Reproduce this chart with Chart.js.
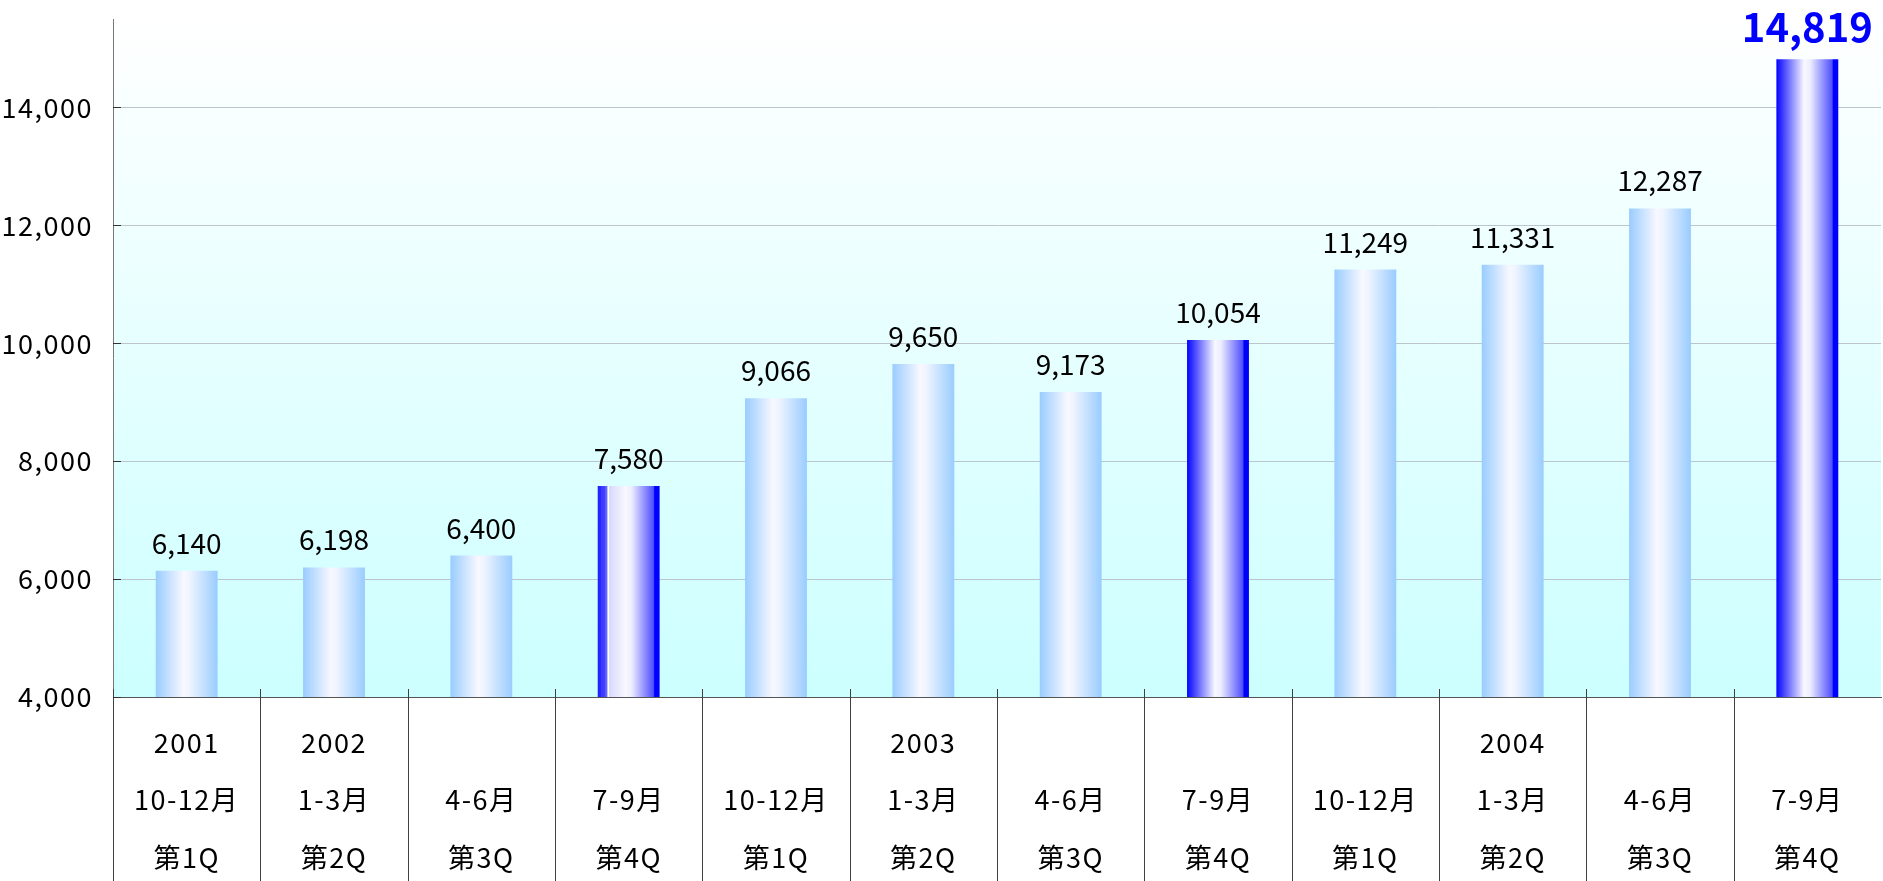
<!DOCTYPE html>
<html><head><meta charset="utf-8">
<script src="https://cdn.jsdelivr.net/npm/chart.js@4.4.1/dist/chart.umd.min.js"></script>
<style>html,body{margin:0;padding:0;background:#fff;overflow:hidden}canvas{display:block}</style>
</head><body>
<canvas id="c" width="1883" height="881"></canvas>
<script>
// ---- data ----
const years    = ['2001','2002','','','','2003','','','','2004','',''];
const months   = ['10-12月','1-3月','4-6月','7-9月','10-12月','1-3月','4-6月','7-9月','10-12月','1-3月','4-6月','7-9月'];
const quarters = ['第1Q','第2Q','第3Q','第4Q','第1Q','第2Q','第3Q','第4Q','第1Q','第2Q','第3Q','第4Q'];
const values   = [6140,6198,6400,7580,9066,9650,9173,10054,11249,11331,12287,14819];
const yTicks   = [4000,6000,8000,10000,12000,14000];
const yMin = 4000, yMax = 15500;

// ---- presentation ----
const FONT = "'Noto Sans CJK JP','Noto Sans',sans-serif";
const labels = years.map((y,i)=>[y, months[i], quarters[i]]);
const BAR_PCT = 0.42;
const fmt = v => v.toLocaleString('en-US');

function barFill(ctx){
  const chart = ctx.chart, i = ctx.dataIndex;
  const xs = chart.scales && chart.scales.x;
  if (!xs || !chart.chartArea || i === undefined) return '#99ccff';
  const cx = xs.getPixelForValue(i);
  const w = xs.width / labels.length * BAR_PCT;
  const g = chart.ctx.createLinearGradient(cx - w/2, 0, cx + w/2, 0);
  if (quarters[i] === '第4Q') {
    if (i === 3) {
      g.addColorStop(0, '#2020ff'); g.addColorStop(0.05, '#2828ff');
      g.addColorStop(0.06, '#3a3aff'); g.addColorStop(0.11, '#4040ff');
      g.addColorStop(0.12, '#5a5aff'); g.addColorStop(0.155, '#6a6aff');
      g.addColorStop(0.16, '#ffffff'); g.addColorStop(0.18, '#ffffff');
      g.addColorStop(0.185, '#d8d8ff');
    } else {
      g.addColorStop(0, '#0000ff'); g.addColorStop(0.04, '#1a1aff');
    }
    g.addColorStop(0.45, '#f8f8ff'); g.addColorStop(0.55, '#ececff');
    g.addColorStop(0.90, '#5050ff'); g.addColorStop(0.92, '#0000ff');
    g.addColorStop(1, '#0000ff');
  } else {
    g.addColorStop(0, '#99ccff'); g.addColorStop(0.45, '#f8f8ff');
    g.addColorStop(0.55, '#eef4ff'); g.addColorStop(1, '#99ccff');
  }
  return g;
}

const bgPlugin = {
  id:'bg',
  beforeDraw(chart){
    const a = chart.chartArea, c = chart.ctx;
    const g = c.createLinearGradient(0, a.top, 0, a.bottom);
    g.addColorStop(0, '#ffffff'); g.addColorStop(1, '#ccffff');
    c.save(); c.fillStyle = g; c.fillRect(a.left, a.top, a.right - a.left, a.bottom - a.top); c.restore();
    c.letterSpacing = '1.5px';
  },
  beforeDatasetsDraw(chart){ chart.ctx.letterSpacing = '0px'; }
};

const decoPlugin = {
  id:'deco',
  afterDatasetsDraw(chart){
    const c = chart.ctx, meta = chart.getDatasetMeta(0);
    meta.data.forEach((bar,i)=>{
      const last = i === values.length - 1;
      c.save();
      c.font = last ? `bold 40px ${FONT}` : `28px ${FONT}`;
      c.fillStyle = last ? '#0000ff' : '#000000';
      c.textAlign = 'center'; c.textBaseline = 'alphabetic';
      c.fillText(fmt(values[i]), bar.x, bar.y - 17);
      c.restore();
    });
  },
  afterDraw(chart){
    const c = chart.ctx, a = chart.chartArea, xs = chart.scales.x, ys = chart.scales.y;
    const n = labels.length, cw = xs.width / n;
    c.save();
    c.strokeStyle = '#404040'; c.lineWidth = 1;
    for (let k = 0; k < n; k++) {
      const bx = Math.round(xs.getPixelForValue(k) - cw/2) + 0.5;
      c.beginPath(); c.moveTo(bx, a.bottom - 8); c.lineTo(bx, chart.height); c.stroke();
    }
    c.strokeStyle = '#333333';
    yTicks.forEach(v=>{
      const py = Math.round(ys.getPixelForValue(v)) + 0.5;
      c.beginPath(); c.moveTo(a.left, py); c.lineTo(a.left + 8, py); c.stroke();
    });
    c.restore();
  }
};

new Chart(document.getElementById('c'), {
  type:'bar',
  data:{ labels, datasets:[{ data: values, backgroundColor: barFill, borderWidth:0,
    barPercentage: BAR_PCT, categoryPercentage: 1 }] },
  options:{
    responsive:false, animation:false, devicePixelRatio:1,
    layout:{ padding:{ top:19, right:2, left:0, bottom:0 } },
    plugins:{ legend:{display:false}, tooltip:{enabled:false} },
    scales:{
      x:{
        grid:{ display:false, drawTicks:false },
        border:{ display:true, color:'#555555', width:1 },
        ticks:{ color:'#000', autoSkip:false, maxRotation:0, minRotation:0, padding:16.5,
          font:{ family:FONT, size:27, lineHeight:57.5/27 } },
        afterFit(s){ s.height = 184; s.paddingLeft = 0; s.paddingRight = 0; }
      },
      y:{
        min:yMin, max:yMax,
        afterBuildTicks(s){ s.ticks = yTicks.map(v=>({value:v})); },
        grid:{ color:'#bcc4cc', drawTicks:false, lineWidth:1 },
        border:{ display:true, color:'#777777', width:1 },
        ticks:{ color:'#000', padding:20, font:{ family:FONT, size:27 }, callback:v=>fmt(v) },
        afterFit(s){ s.width = 113; s.paddingTop = 0; s.paddingBottom = 0; }
      }
    }
  },
  plugins:[bgPlugin, decoPlugin]
});
</script>
</body></html>
